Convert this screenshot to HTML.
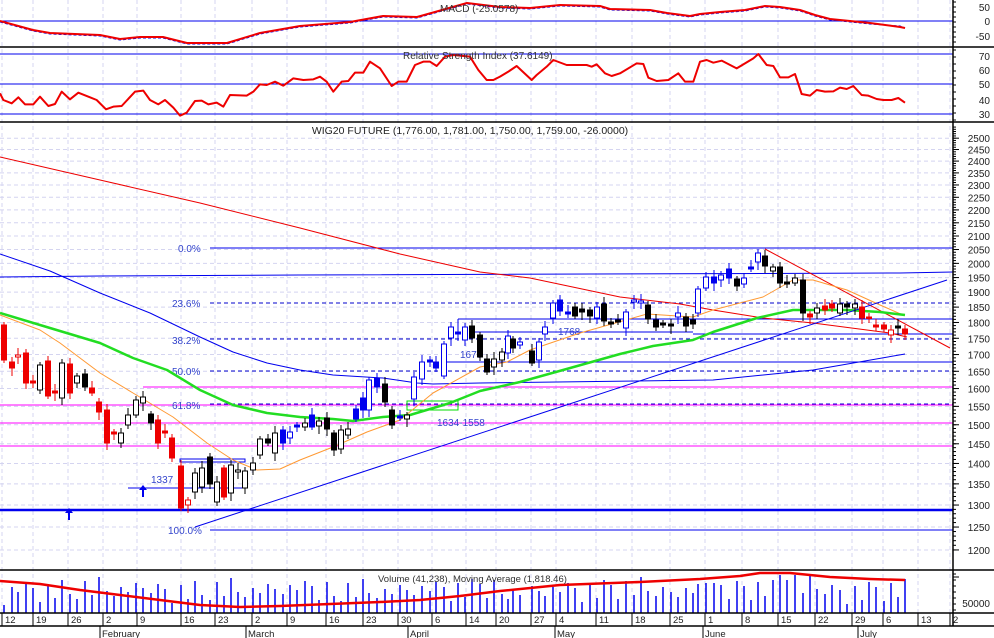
<!DOCTYPE html>
<html><head><meta charset="utf-8">
<style>
html,body{margin:0;padding:0;background:#fff;}
svg{display:block;font-family:"Liberation Sans",sans-serif;}
</style></head><body>
<svg id="s" width="994" height="638" viewBox="0 0 994 638" xmlns="http://www.w3.org/2000/svg"></svg>
<script>
const S=document.getElementById('s');let h='';
const L=(x1,y1,x2,y2,c,w,d)=>{h+=`<line x1="${x1}" y1="${y1}" x2="${x2}" y2="${y2}" stroke="${c}" stroke-width="${w||1}"${d?` stroke-dasharray="${d}"`:''}/>`};
const P=(pts,c,w,d)=>{h+=`<polyline fill="none" points="${pts.map(p=>p.join(',')).join(' ')}" stroke="${c}" stroke-width="${w||1}"${d?` stroke-dasharray="${d}"`:''} stroke-linejoin="round"/>`};
const T=(x,y,t,c,s,a)=>{h+=`<text x="${x}" y="${y}" fill="${c||'#222'}" font-size="${s||11}"${a?` text-anchor="${a}"`:''}>${t}</text>`};
const R=(x,y,w,hh,f,st)=>{h+=`<rect x="${x}" y="${y}" width="${w}" height="${hh}" fill="${f}" stroke="${st||'none'}" stroke-width="1"/>`};
const AX=953;
const yP=p=>236+561*Math.log(2100/p);
const dx=[2,33,68,103,137,181,215,252,287,326,363,398,432,466,496,531,556,596,632,670,705,742,778,815,852,883,918,950];
dx.forEach(x=>{L(x,0,x,613,'#d4d4f0',1,'4,3')});
for(let p=1200;p<=2500;p+=50){L(0,yP(p),AX,yP(p),'#d4d4f0',1,'4,3')}
L(0,21,AX,21,'#0000ee',1);
P([[0,21],[33,30],[50,33],[100,35],[120,39],[140,37],[163,37],[187,43],[227,43],[260,33],[300,26],[350,22],[383,16],[417,17],[467,3],[500,7],[530,8],[560,5],[600,6],[610,9],[650,10],[667,13],[690,16],[700,14],[720,12],[745,10],[765,6],[780,7],[800,10],[815,15],[830,19],[850,21],[870,23],[900,25],[905,27]].map(p=>[p[0],p[1]+1]),'#0000ee',1,'3,2');
P([[0,21],[33,30],[50,33],[100,35],[120,39],[140,37],[163,37],[187,43],[227,43],[260,33],[300,26],[350,22],[383,16],[417,17],[467,3],[500,7],[530,8],[560,5],[600,6],[610,9],[650,10],[667,13],[690,16],[700,14],[720,12],[745,10],[765,6],[780,7],[800,10],[815,15],[830,19],[850,21],[870,23],[900,27],[905,28]],'#ee0000',2);
T(440,12,'MACD (-25.0578)','#333',10);
L(0,54,AX,54,'#0000ee');L(0,84,AX,84,'#0000ee');L(0,114,AX,114,'#0000ee');
const r1=[[0,280],[10,300],[35,310],[55,292],[75,313],[100,313],[120,290],[145,318],[165,312],[185,275],[210,298],[235,278],[270,292],[290,300],[318,328],[340,320],[365,318],[405,275],[430,272],[450,300],[475,313],[495,300],[520,323],[540,347],[560,338],[585,303],[605,302],[625,313],[650,308],[670,320],[690,285],[740,287],[760,275],[780,253],[800,255],[825,245],[850,257],[880,235],[910,240],[940,238],[960,230],[980,245],[1000,275],[1025,245],[1045,243],[1065,218],[1090,218],[1110,185],[1140,205],[1175,258],[1195,245],[1220,245],[1245,195],[1270,185],[1290,185],[1310,198],[1335,170],[1360,165],[1410,170],[1435,210],[1460,240],[1480,240],[1500,230]].map(p=>[p[0]/3,p[1]/3]);
const r2=[[25,215],[50,198],[95,240],[110,225],[140,200],[160,180],[200,195],[260,195],[275,200],[290,193],[315,220],[335,228],[360,220],[410,190],[430,192],[445,233],[470,243],[505,240],[535,220],[555,245],[580,245],[600,185],[620,180],[640,188],[665,182],[710,205],[760,175],[775,162],[800,195],[820,198],[840,232],[865,232],[885,222],[905,282],[930,287],[950,270],[975,275],[1000,274],[1020,263],[1040,267],[1060,258],[1085,285],[1105,287],[1130,297],[1150,300],[1175,300],[1195,294],[1215,308]].map(p=>[p[0]/3+500,p[1]/3]);
P(r1.concat(r2),'#ee0000',2);
T(403,59,'Relative Strength Index (37.6149)','#333',10);
L(210,248,AX,248,'#0000ee');
P([[0,277],[100,276],[300,275],[900,273],[AX,272]],'#0000ee');
L(210,303,AX,303,'#0000cc',1,'4,3');
L(458,319,AX,319,'#0000ee');L(458,319,458,333,'#0000ee');
L(470,332,693,332,'#0000ee');L(693,334,AX,334,'#0000ee');
L(210,339,AX,339,'#0000cc',1,'4,3');
L(443,362,AX,362,'#0000ee');
L(210,371,AX,371,'#0000cc',1,'4,3');
L(143,387,AX,387,'#ff00ff');
L(210,404,AX,404,'#0000cc',1,'4,3');
L(0,405,AX,405,'#ff00ff');
L(0,423,AX,423,'#ff00ff');
L(0,446,AX,446,'#ff00ff');
L(0,510,AX,510,'#0000ee',2.5);
L(210,530,AX,530,'#0000ee');
L(128,488,247,488,'#0000ee');
R(180,459,65,3,'none','#0000ee');
R(407,401,51,9,'none','#00dd00');
const fc='#3344cc';
T(178,252,'0.0%',fc,10);T(172,307,'23.6%',fc,10);T(172,344,'38.2%',fc,10);T(172,375,'50.0%',fc,10);T(172,409,'61.8%',fc,10);T(168,534,'100.0%',fc,10);
T(151,483,'1337',fc,10);T(460,358,'1676',fc,10);T(558,335,'1768',fc,10);T(437,426,'1634-1558',fc,10);
[[69,520],[143,497]].forEach(a=>{L(a[0],a[1],a[0],a[1]-9,'#0000ee',2);h+=`<polygon points="${a[0]-4},${a[1]-7} ${a[0]+4},${a[1]-7} ${a[0]},${a[1]-12}" fill="#0000ee"/>`});
P([[0,157],[100,180],[200,203],[300,228],[400,254],[480,272],[530,278],[620,297],[680,304],[713,310],[763,318],[813,323],[890,333],[907,337]],'#ee0000',1);
L(765,249,950,348,'#ee0000',1);
P([[0,254],[50,271],[100,293],[150,313],[200,337],[233,352],[267,363],[300,370],[333,375],[383,378],[417,383],[433,384],[480,383],[557,382],[713,380],[813,370],[905,354]],'#0000ee',1);
P([[0,315],[40,330],[60,343],[100,373],[133,393],[173,417],[207,443],[233,460],[257,470],[280,469],[300,460],[333,447],[367,432],[400,420],[433,393],[480,367],[507,362],[530,350],[580,333],[647,314],[693,317],[713,310],[763,297],[793,280],[813,280],[847,290],[880,305],[903,315]],'#ff9933',1);
P([[0,313],[50,328],[100,343],[133,358],[167,370],[200,390],[233,405],[267,413],[300,417],[333,419],[353,421],[383,417],[410,415],[450,403],[480,391],[520,382],[563,370],[620,354],[653,346],[693,340],[713,332],[757,318],[793,310],[847,310],[880,312],[905,315]],'#22dd22',2.5);
L(195,527,947,280,'#0000ee',1);
const C="4,325,360,r;12,362,368,r;18,355,357,R;26,353,383,r;33,381,383,r;40,365,390,w;48,361,396,r;55,391,393,r;62,363,398,w;70,364,393,r;77,376,383,w;85,374,387,k;92,388,393,r;99,402,412,r;107,410,443,r;114,432,434,r;121,433,443,w;128,415,425,w;136,400,415,w;143,397,403,w;151,414,423,k;158,420,443,r;165,431,433,r;172,438,458,r;181,466,508,r;188,500,505,R;195,473,492,w;202,468,487,w;210,457,484,k;217,482,502,w;224,468,497,r;231,465,493,w;238,470,472,w;245,471,488,w;253,463,470,w;260,439,455,w;268,439,443,k;275,433,453,w;283,430,443,b;290,432,438,o;297,425,427,b;305,423,427,w;312,415,427,b;319,421,426,w;327,418,429,k;334,433,450,k;341,430,449,w;348,429,435,w;356,409,419,b;363,398,410,b;369,380,410,o;377,378,387,b;385,384,402,k;392,410,425,k;400,416,418,b;407,415,419,w;414,377,399,o;422,362,379,o;430,360,362,b;436,362,368,b;444,344,376,o;451,327,338,o;458,332,334,b;465,327,340,o;472,326,338,k;480,335,357,k;487,359,372,k;494,359,367,w;502,352,360,w;508,336,353,o;513,339,348,k;520,342,345,o;532,351,363,k;539,342,360,o;545,327,334,o;553,303,318,o;560,300,311,b;568,312,314,b;575,307,316,k;582,309,312,k;590,310,316,k;597,307,318,o;604,304,321,k;611,322,324,k;618,320,322,k;626,312,328,o;634,300,302,o;641,301,303,o;648,305,319,k;656,320,327,k;663,323,325,k;671,324,326,k;678,313,317,o;686,317,326,k;693,320,324,k;698,289,313,o;706,277,288,o;714,277,283,b;721,275,280,o;729,269,278,b;737,279,286,k;744,278,284,o;751,267,269,b;758,253,262,o;765,256,266,k;773,267,271,w;780,267,283,k;787,282,284,k;795,278,283,w;803,280,313,k;810,314,317,r;817,308,313,w;825,306,310,r;832,304,308,r;840,304,313,w;847,304,307,k;855,304,308,w;862,307,318,r;869,317,318,r;876,325,327,r;884,325,329,r;891,330,335,R;898,326,328,k;905,329,334,r";
const col={r:['#ee0000','#ee0000'],k:['#000','#000'],w:['#fff','#000'],b:['#0000ee','#0000ee'],o:['#fff','#0000ee'],R:['#fff','#ee0000']};
const xs=[];
C.split(';').forEach((s,i)=>{const [x,t,b,ty]=s.split(',');const X=+x,Tp=+t,B=+b;xs.push(X);const c=col[ty];
 const wh=3+(i*7%5),wl=3+(i*11%6);
 L(X,Tp-wh,X,B+wl,c[1],1);
 R(X-2.5,Tp,5,Math.max(B-Tp,1.5),c[0],c[1]);});
T(470,134,'WIG20 FUTURE (1,776.00, 1,781.00, 1,750.00, 1,759.00, -26.0000)','#222',10.5,'middle');
xs.forEach((x,i)=>{let v=8+((i*37)%23)+((i*13)%9);if(x>770&&x<800)v=38-((i*5)%10);if(x>700&&x<720)v=30;L(x,613,x,613-v,'#0000ee',1.5)});
P([[0,581],[40,584],[80,590],[120,595],[160,600],[200,605],[240,607],[280,606],[330,604],[380,602],[420,600],[460,596],[500,591],[560,585],[640,582],[700,579],[740,576],[760,573],[790,573],[830,577],[870,579],[905,580]],'#ee0000',2.5);
T(378,582,'Volume (41,238), Moving Average (1,818.46)','#333',9.5);
[47,122,570,613,626].forEach(y=>L(0,y,994,y,'#000',1.5));
L(AX,0,AX,626,'#000',1.5);
const lab=(y,t)=>T(990,y+4,t,'#222',10,'end');
lab(7,'50');lab(21,'0');lab(36,'-50');
lab(56,'70');lab(70,'60');lab(84,'50');lab(100,'40');lab(114,'30');
for(let p=1200;p<=2500;p+=50){const y=yP(p);lab(y,String(p));L(AX,y,AX+6,y,'#000',1)}
for(let p=1200;p<=2550;p+=10){const y=yP(p);if(y>123)L(AX,y,AX+3,y,'#000',1)}
for(let y=2;y<47;y+=5)L(AX,y,AX+3,y,'#000',1);
for(let y=50;y<122;y+=7)L(AX,y,AX+3,y,'#000',1);
for(let y=574;y<613;y+=6)L(AX,y,AX+3,y,'#000',1);
L(AX,577,AX+6,577,'#000',1);
lab(603,'50000');
const dl=['12','19','26','2','9','16','23','2','9','16','23','30','6','14','20','27','4','11','18','25','1','8','15','22','29','6','13','2'];
dx.forEach((x,i)=>{L(x,613,x,626,'#000',1);T(x+3,623,dl[i],'#222',9.5)});
[[100,'February'],[246,'March'],[408,'April'],[555,'May'],[703,'June'],[858,'July']].forEach(m=>{L(m[0],626,m[0],638,'#000',1);T(m[0]+2,637,m[1],'#222',9.5)});
S.innerHTML=h;
</script>
</body></html>
